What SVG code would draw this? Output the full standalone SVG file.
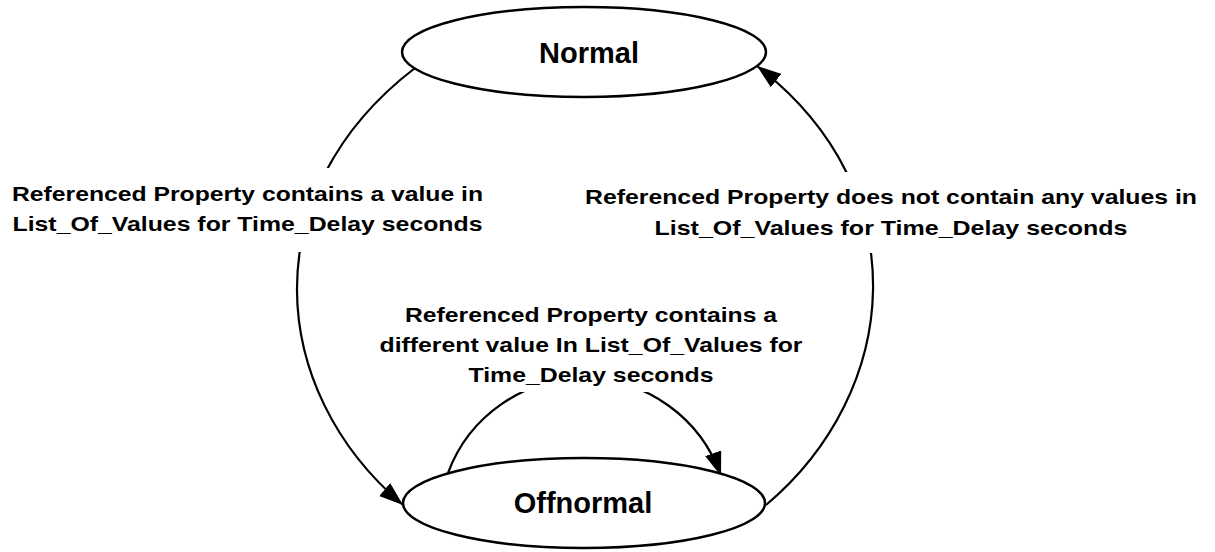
<svg xmlns="http://www.w3.org/2000/svg" width="1215" height="552" viewBox="0 0 1215 552">
<style>
.node{fill:#fff;stroke:#000;stroke-width:2.5}
.nt{font-family:"Liberation Sans",Arial,sans-serif;font-weight:bold;font-size:29px;text-anchor:middle;fill:#000}
.lt{font-family:"Liberation Sans",Arial,sans-serif;font-weight:bold;font-size:21px;text-anchor:middle;fill:#000}
.edge{fill:none;stroke:#000;stroke-width:2.2}
.bg{fill:#fff;stroke:none}
</style>
<defs>
<marker id="arr" markerUnits="userSpaceOnUse" markerWidth="26" markerHeight="18" refX="24" refY="8.5" orient="auto">
<path d="M0,0 L24,8.5 L0,17 z" fill="#000"/>
</marker>
</defs>
<rect width="1215" height="552" fill="#fff"/>
<g id="connectors">
<path class="edge" d="M415,68 C252.4,192.5 266.9,389.8 403,505" marker-end="url(#arr)"/>
<path class="edge" d="M766,505 C900.4,391.8 920,191.1 757,66" marker-end="url(#arr)"/>
<path class="edge" d="M448,473 A145,145 0 0 1 721,476" marker-end="url(#arr)"/>
</g>
<g id="label-left">
<rect class="bg" x="5" y="168" width="486" height="84"/>
<text class="lt" x="247.5" y="201" textLength="471" lengthAdjust="spacingAndGlyphs">Referenced Property contains a value in</text>
<text class="lt" x="247.5" y="231" textLength="470" lengthAdjust="spacingAndGlyphs">List_Of_Values for Time_Delay seconds</text>
</g>
<g id="label-right">
<rect class="bg" x="578" y="172" width="630" height="81"/>
<text class="lt" x="891" y="204" textLength="612" lengthAdjust="spacingAndGlyphs">Referenced Property does not contain any values in</text>
<text class="lt" x="891" y="235" textLength="473" lengthAdjust="spacingAndGlyphs">List_Of_Values for Time_Delay seconds</text>
</g>
<g id="label-center">
<rect class="bg" x="378" y="298" width="426" height="94"/>
<text class="lt" x="591" y="322" textLength="372" lengthAdjust="spacingAndGlyphs">Referenced Property contains a</text>
<text class="lt" x="591" y="352" textLength="423" lengthAdjust="spacingAndGlyphs">different value In List_Of_Values for</text>
<text class="lt" x="591" y="382" textLength="245" lengthAdjust="spacingAndGlyphs">Time_Delay seconds</text>
</g>
<g id="node-normal">
<ellipse class="node" cx="584" cy="52" rx="182" ry="45"/>
<text class="nt" x="589" y="63">Normal</text>
</g>
<g id="node-offnormal">
<ellipse class="node" cx="584" cy="503" rx="181" ry="45"/>
<text class="nt" x="583" y="513">Offnormal</text>
</g>
</svg>
